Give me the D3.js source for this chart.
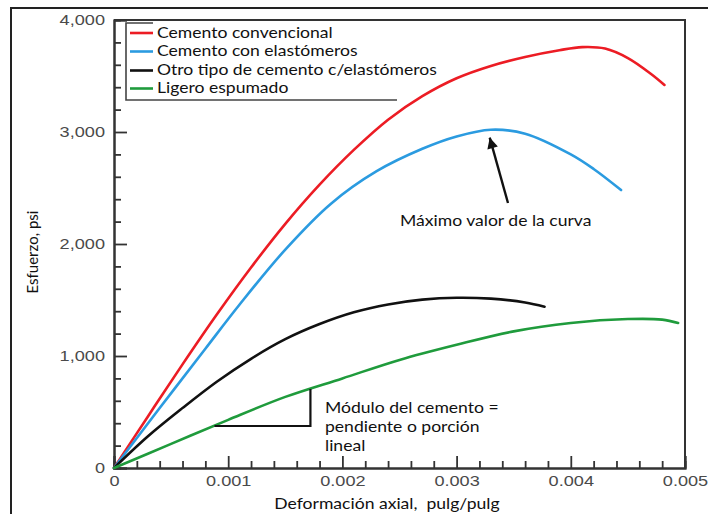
<!DOCTYPE html>
<html>
<head>
<meta charset="utf-8">
<script src="https://cdn.jsdelivr.net/npm/d3@7"></script>
<style>
  html, body { margin: 0; padding: 0; background: #fff; }
  svg { display: block; }
</style>
</head>
<body>
<svg id="chart" width="708" height="514"></svg>
<script>
// Stress–strain curves for cement samples (strain in in/in, stress in psi)
const seriesNames = [
  "Cemento convencional",
  "Cemento con elastómeros",
  "Otro tipo de cemento c/elastómeros",
  "Ligero espumado"
];
const seriesColors = ["#ec1c24", "#2b9be0", "#111111", "#1f9b3c"];

const convStrain = [0, 0.0003, 0.0006, 0.0009, 0.0012, 0.0015, 0.0018, 0.0021, 0.0024, 0.0027, 0.003, 0.0033, 0.0036, 0.0039, 0.0041, 0.0043, 0.0045, 0.0047, 0.00482];
const convStress = [0, 465, 925, 1370, 1790, 2180, 2530, 2840, 3110, 3320, 3480, 3590, 3670, 3730, 3758, 3745, 3660, 3520, 3420];

const elastStrain = [0, 0.0004, 0.0008, 0.0011, 0.0015, 0.0019, 0.0023, 0.0027, 0.003, 0.0033, 0.0036, 0.004, 0.0042, 0.00444];
const elastStress = [0, 535, 1065, 1460, 1950, 2360, 2650, 2850, 2960, 3020, 2985, 2800, 2670, 2482];

const otroStrain = [0, 0.0003, 0.0006, 0.0009, 0.0012, 0.0015, 0.0018, 0.0021, 0.0024, 0.0027, 0.003, 0.0033, 0.0036, 0.00377];
const otroStress = [0, 285, 535, 770, 975, 1150, 1285, 1390, 1460, 1503, 1520, 1512, 1478, 1440];

const espumStrain = [0, 0.0005, 0.001, 0.0015, 0.002, 0.0025, 0.003, 0.0035, 0.004, 0.0045, 0.0048, 0.00494];
const espumStress = [0, 215, 430, 635, 800, 965, 1100, 1220, 1295, 1330, 1325, 1295];

const xTickValues = [0, 0.001, 0.002, 0.003, 0.004, 0.005];
const xTickLabels = ["0", "0.001", "0.002", "0.003", "0.004", "0.005"];
const yTickValues = [0, 1000, 2000, 3000, 4000];
const yTickLabels = ["0", "1,000", "2,000", "3,000", "4,000"];

// Peak of the elastomer curve (arrow tip) and arrow tail
const peakArrow = [[0.00345, 2366], [0.00329, 2950]];
// Slope triangle on the linear part of the foamed curve
const slopeTriangle = [[0.00088, 375], [0.00172, 375], [0.00172, 706]];

const xAxisTitle = "Deformación axial,  pulg/pulg";
const yAxisTitle = "Esfuerzo, psi";
const peakNote = "Máximo valor de la curva";
const slopeNote = ["Módulo del cemento =", "pendiente o porción", "lineal"];

const svg = d3.select("#chart");
const plotLeft = 114, plotRight = 685, plotTop = 20, plotBottom = 468;
const textFont = "Lato, 'Open Sans', sans-serif";
const numFont = "'Liberation Sans', Arial, sans-serif";
const STRETCH = 1.17;

function stretch(sel, k) {
  sel.each(function () {
    const w = this.getComputedTextLength();
    d3.select(this).attr("textLength", w * k).attr("lengthAdjust", "spacingAndGlyphs");
  });
}

const x = d3.scaleLinear().domain([0, 0.005]).range([plotLeft, plotRight]);
const y = d3.scaleLinear().domain([0, 4000]).range([plotBottom, plotTop]);

// outer frame
svg.append("path")
  .attr("d", "M11,514 V8 H708")
  .attr("fill", "none").attr("stroke", "#222").attr("stroke-width", 2);

// plot box (top and right edges)
svg.append("path")
  .attr("d", `M${plotLeft},${plotTop} H${plotRight} V${plotBottom}`)
  .attr("fill", "none").attr("stroke", "#333").attr("stroke-width", 2);

// minor ticks
const xMinor = d3.range(0, 0.00501, 0.0002).filter(v => Math.abs(v / 0.001 - Math.round(v / 0.001)) > 1e-6);
const yMinor = d3.range(0, 4001, 200).filter(v => v % 1000 !== 0);

const gx = svg.append("g").attr("transform", `translate(0,${plotBottom})`);
gx.call(d3.axisBottom(x).tickValues(xMinor).tickSize(-7).tickFormat(""));
const gxMajor = svg.append("g").attr("transform", `translate(0,${plotBottom})`);
gxMajor.call(d3.axisBottom(x).tickValues(xTickValues).tickSize(-12).tickPadding(7)
  .tickFormat((d, i) => xTickLabels[i]));

const gy = svg.append("g").attr("transform", `translate(${plotLeft},0)`);
gy.call(d3.axisLeft(y).tickValues(yMinor).tickSize(-7).tickFormat(""));
const gyMajor = svg.append("g").attr("transform", `translate(${plotLeft},0)`);
gyMajor.call(d3.axisLeft(y).tickValues(yTickValues).tickSize(-13).tickPadding(9)
  .tickFormat((d, i) => yTickLabels[i]));

[gx, gxMajor, gy, gyMajor].forEach(g => {
  g.selectAll(".domain").attr("stroke", "#333").attr("stroke-width", 2);
  g.selectAll(".tick line").attr("stroke", "#333").attr("stroke-width", 1.8);
  g.selectAll(".tick text").attr("fill", "#4a4a4a")
    .style("font-family", numFont).style("font-size", "15.5px");
});
gxMajor.selectAll(".tick text").call(stretch, STRETCH);
gyMajor.selectAll(".tick text").call(stretch, STRETCH);

// curves
const series = [
  [convStrain, convStress],
  [elastStrain, elastStress],
  [otroStrain, otroStress],
  [espumStrain, espumStress]
];
const line = d3.line()
  .x(d => x(d[0])).y(d => y(d[1]))
  .curve(d3.curveCatmullRom.alpha(0.5));

series.forEach((s, i) => {
  const pts = s[0].map((v, j) => [v, s[1][j]]);
  svg.append("path")
    .datum(pts)
    .attr("d", line)
    .attr("fill", "none")
    .attr("stroke", seriesColors[i])
    .attr("stroke-width", 2.6)
    .attr("stroke-linejoin", "round")
    .attr("stroke-linecap", "round");
});

// slope triangle
svg.append("path")
  .datum(slopeTriangle)
  .attr("d", d3.line().x(d => x(d[0])).y(d => y(d[1])))
  .attr("fill", "none").attr("stroke", "#111").attr("stroke-width", 2.2);

// arrow to the peak
const defs = svg.append("defs");
defs.append("marker")
  .attr("id", "arrowhead")
  .attr("viewBox", "0 0 10 10")
  .attr("refX", 10).attr("refY", 5)
  .attr("markerWidth", 6).attr("markerHeight", 4.5)
  .attr("markerUnits", "strokeWidth")
  .attr("orient", "auto")
  .append("path").attr("d", "M0,0 L10,5 L0,10 Z").attr("fill", "#111");

svg.append("line")
  .attr("x1", x(peakArrow[0][0])).attr("y1", y(peakArrow[0][1]))
  .attr("x2", x(peakArrow[1][0])).attr("y2", y(peakArrow[1][1]))
  .attr("stroke", "#111").attr("stroke-width", 2.4)
  .attr("marker-end", "url(#arrowhead)");

// annotation texts
svg.append("text")
  .attr("x", 400).attr("y", 226)
  .attr("fill", "#111")
  .style("font-family", textFont).style("font-size", "15px")
  .text(peakNote)
  .call(stretch, STRETCH);

const slopeText = svg.append("g");
slopeNote.forEach((t, i) => {
  slopeText.append("text")
    .attr("x", 325).attr("y", 413 + i * 19)
    .attr("fill", "#111")
    .style("font-family", textFont).style("font-size", "15px")
    .text(t)
    .call(stretch, STRETCH);
});

// axis titles
svg.append("text")
  .attr("x", 387).attr("y", 509)
  .attr("text-anchor", "middle")
  .attr("fill", "#111")
  .style("font-family", textFont).style("font-size", "15px")
  .style("white-space", "pre")
  .text(xAxisTitle)
  .call(stretch, STRETCH);

svg.append("text")
  .attr("transform", "translate(38,252) rotate(-90)")
  .attr("text-anchor", "middle")
  .attr("fill", "#111")
  .style("font-family", textFont).style("font-size", "15px")
  .text(yAxisTitle);

// legend
const legend = svg.append("g");
legend.append("path")
  .attr("d", "M153,23 H126 V100 H397")
  .attr("fill", "none").attr("stroke", "#444").attr("stroke-width", 1.6);

const rowBase = [37.5, 56, 75, 93];
seriesNames.forEach((name, i) => {
  const row = legend.append("g");
  row.append("text")
    .attr("x", 157).attr("y", rowBase[i])
    .attr("fill", "#111")
    .style("font-family", textFont).style("font-size", "15px")
    .text(name)
    .call(stretch, STRETCH);
  row.append("line")
    .attr("x1", 130).attr("x2", 153)
    .attr("y1", rowBase[i] - 4.5).attr("y2", rowBase[i] - 4.5)
    .attr("stroke", seriesColors[i]).attr("stroke-width", 2.6);
});
</script>
</body>
</html>
